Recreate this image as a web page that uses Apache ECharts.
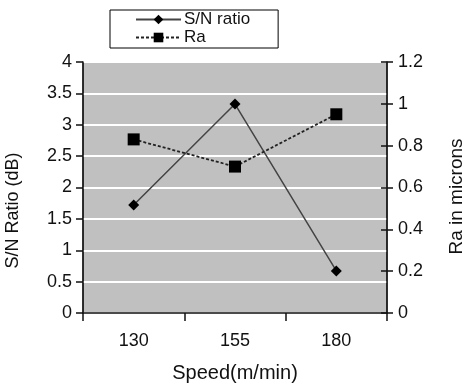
<!DOCTYPE html>
<html><head><meta charset="utf-8">
<script src="https://cdn.jsdelivr.net/npm/echarts@6/dist/echarts.min.js"></script>
<style>html,body{margin:0;padding:0;background:#fff}#c{width:465px;height:384px}</style>
</head><body><div id="c"></div>
<script>
const categories = ['130', '155', '180'];
const snRatio = [1.72, 3.33, 0.67];
const ra = [0.83, 0.70, 0.95];
const leftTicks = {min: 0, max: 4, interval: 0.5};
const rightTicks = {min: 0, max: 1.2, interval: 0.2};

const font = 'Liberation Sans, Arial, sans-serif';
const chart = echarts.init(document.getElementById('c'), null, {renderer: 'canvas'});
chart.setOption({
  animation: false,
  backgroundColor: '#fff',
  textStyle: {fontFamily: font},
  legend: {
    orient: 'vertical', left: 110, top: 10,
    padding: [1, 28, 2, 25], itemGap: 1,
    borderColor: '#000', borderWidth: 1, backgroundColor: '#fff',
    itemWidth: 45, itemHeight: 12,
    textStyle: {fontSize: 17, color: '#111', fontFamily: font, padding: [0, 0, 0, -2]},
    data: ['S/N ratio', 'Ra']
  },
  grid: {left: 83, right: 78, top: 62, bottom: 71, outerBoundsMode: 'none', containLabel: false,
    show: true, backgroundColor: '#c0c0c0', borderColor: '#222', borderWidth: 1},
  xAxis: {
    type: 'category', data: categories, boundaryGap: true,
    axisLine: {lineStyle: {color: '#111', width: 1.5}},
    axisTick: {show: true, length: 8, lineStyle: {color: '#111', width: 1.5}},
    axisLabel: {fontSize: 18, color: '#111', margin: 19},
    name: 'Speed(m/min)', nameLocation: 'middle', nameGap: 50,
    nameTextStyle: {fontSize: 20, color: '#111'}
  },
  yAxis: [
    {
      type: 'value', min: leftTicks.min, max: leftTicks.max, interval: leftTicks.interval,
      axisLine: {show: true, lineStyle: {color: '#111', width: 1.5}},
      axisTick: {show: true, length: 7, lineStyle: {color: '#111', width: 1.5}},
      axisLabel: {fontSize: 18, color: '#111', margin: 11},
      splitLine: {show: true, lineStyle: {color: '#fff', width: 2}},
      name: 'S/N Ratio (dB)', nameLocation: 'middle', nameGap: 61, nameRotate: 90,
      nameTextStyle: {fontSize: 18, color: '#111', padding: [0, 46, 0, 0]}
    },
    {
      type: 'value', position: 'right', min: rightTicks.min, max: rightTicks.max, interval: rightTicks.interval,
      axisLine: {show: true, lineStyle: {color: '#111', width: 1.5}},
      axisTick: {show: true, length: 6, lineStyle: {color: '#111', width: 1.5}},
      axisLabel: {fontSize: 18, color: '#111', margin: 11, formatter: v => String(+v.toFixed(1))},
      splitLine: {show: false},
      name: 'Ra in microns', nameLocation: 'middle', nameGap: 60, nameRotate: 90,
      nameTextStyle: {fontSize: 19, color: '#111', padding: [0, 18, 0, 0]}
    },
    {
      type: 'value', position: 'right', min: rightTicks.min, max: rightTicks.max, interval: rightTicks.interval,
      axisLine: {show: false},
      axisTick: {show: true, inside: true, length: 6, lineStyle: {color: '#111', width: 1.5}},
      axisLabel: {show: false}, splitLine: {show: false}
    }
  ],
  series: [
    {
      name: 'S/N ratio', type: 'line', yAxisIndex: 0, data: snRatio,
      symbol: 'diamond', symbolSize: 11,
      lineStyle: {color: '#444', width: 1.5},
      itemStyle: {color: '#000'}
    },
    {
      name: 'Ra', type: 'line', yAxisIndex: 1, data: ra,
      symbol: 'rect', symbolSize: 12,
      lineStyle: {color: '#222', width: 1.8, type: [3, 2]},
      itemStyle: {color: '#000'}
    }
  ]
});
</script></body></html>
